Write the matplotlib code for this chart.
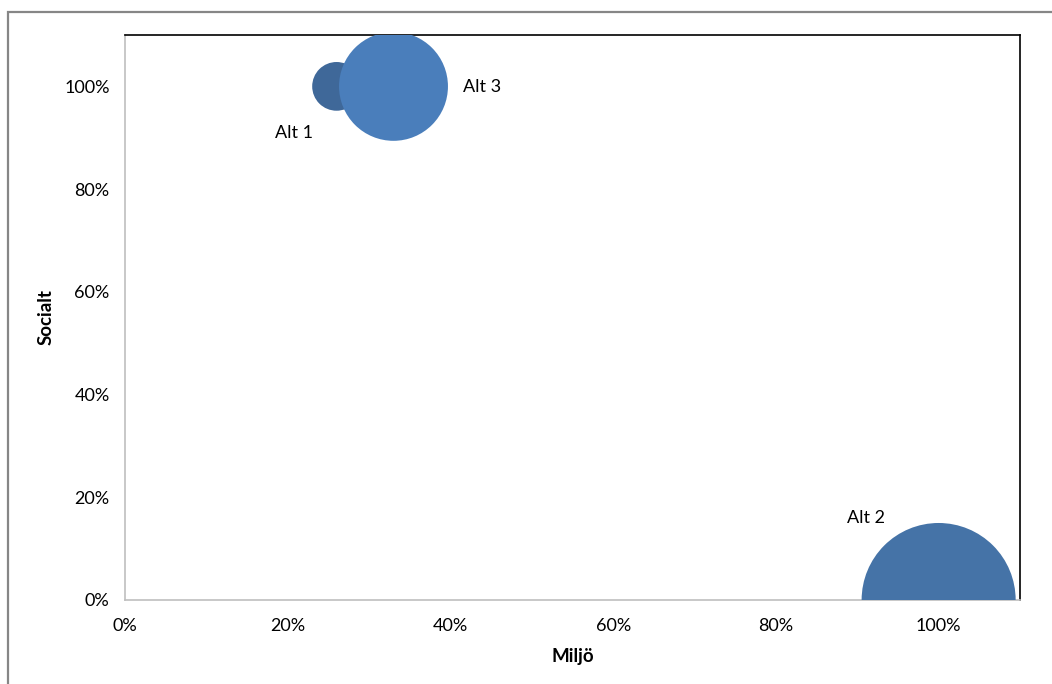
import matplotlib
matplotlib.use("Agg")
import matplotlib.pyplot as plt
from matplotlib.patches import Rectangle
from matplotlib.ticker import FuncFormatter

# Data
labels = ["Alt 1", "Alt 2", "Alt 3"]
miljo = [0.26, 1.00, 0.33]
socialt = [1.00, 0.00, 1.00]
bubble_size = [1, 10, 5]
colors = ["#3F6899", "#4573A7", "#4A7EBB"]
label_offsets_px = [(-43, -47), (-73, 82), (89, -1)]
x_ticks = [0, 0.2, 0.4, 0.6, 0.8, 1.0]
y_ticks = [0, 0.2, 0.4, 0.6, 0.8, 1.0]

W, H = 1052, 684
fig = plt.figure(figsize=(W / 100, H / 100), dpi=100)
plt.rcParams['font.family'] = ['Lato', 'DejaVu Sans']

# outer chart border
fig.patches.append(Rectangle((8 / W, -0.1), 1.2, (H - 12) / H + 0.1, transform=fig.transFigure,
                             fill=False, edgecolor="#868686", linewidth=1.6, zorder=0))

left, right, top, bottom = 125, 1020, 35, 600
ax = fig.add_axes([left / W, (H - bottom) / H, (right - left) / W, (bottom - top) / H])

scale = 1230.0
for i in range(len(labels)):
    ax.scatter(miljo[i], socialt[i], s=bubble_size[i] * scale, color=colors[i],
               edgecolors="none", zorder=3 if i != 2 else 4)

fs = 13
for i, lab in enumerate(labels):
    dx, dy = label_offsets_px[i]
    ax.annotate(lab, (miljo[i], socialt[i]), xytext=(dx, dy), textcoords="offset pixels",
                ha="center", va="center", fontsize=fs, color="#000000", zorder=5)

ax.set_xlim(0, 1.1)
ax.set_ylim(0, 1.1)
ax.set_xticks(x_ticks)
ax.set_yticks(y_ticks)
pct = FuncFormatter(lambda v, p: f"{v * 100:.0f}%")
ax.xaxis.set_major_formatter(pct)
ax.yaxis.set_major_formatter(pct)
ax.tick_params(axis="both", length=0, labelsize=fs, colors="#000000")
ax.tick_params(axis="x", pad=13)
ax.tick_params(axis="y", pad=11)

ax.spines["left"].set_color("#BFBFBF")
ax.spines["bottom"].set_color("#BFBFBF")
ax.spines["top"].set_color("#000000")
ax.spines["right"].set_color("#000000")
for s in ax.spines.values():
    s.set_linewidth(1.2)

ax.set_xlabel("Miljö", fontsize=13.5, fontweight="bold")
ax.set_ylabel("Socialt", fontsize=13.5, fontweight="bold")
ax.xaxis.set_label_coords(0.5, -(648 - 600) / (bottom - top))
ax.yaxis.set_label_coords(-(125 - 55) / (right - left), 0.5)

fig.savefig("out.png", dpi=100)
